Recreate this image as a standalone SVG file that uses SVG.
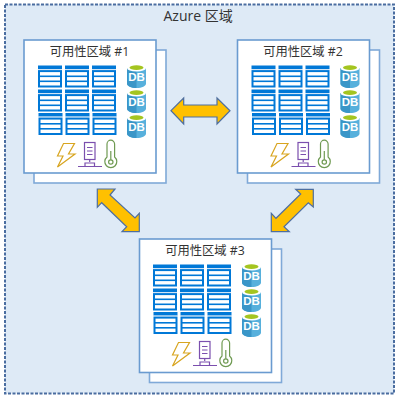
<svg xmlns="http://www.w3.org/2000/svg" xmlns:xlink="http://www.w3.org/1999/xlink" width="400" height="400" viewBox="0 0 400 400">
<style>
.region{fill:#deeaf6;stroke:#4a6da0;stroke-width:2;stroke-dasharray:3 1.5}
.card{fill:#fff;stroke:#7fa9d8;stroke-width:1.6}
.front{stroke:#6a9bd0}
text{font-family:"Open Sans","Noto Sans CJK SC",sans-serif;fill:#333}
.arrow{fill:#ffc000;stroke:#4f6f9f;stroke-width:1.2}
.w{fill:#fff}.b{fill:#0078d7}
</style>
<defs>
<g id="tbl">
<rect class="b" x="0" y="0" width="24" height="3.600"/>
<rect fill="#cfe3f6" x="0" y="3.600" width="24" height="1"/>
<rect class="b" x="0" y="4.600" width="24" height="17.400"/>
<rect class="w" x="2" y="6.600" width="20" height="3.400"/>
<rect class="w" x="2" y="11.600" width="20" height="3.400"/>
<rect class="w" x="2" y="16.600" width="20" height="3.400"/>
</g>
<g id="db">
<path d="M0 4V19.500C0 22 4 24 9.500 24S19 22 19 19.500V4Z" fill="#57b0dc"/>
<path d="M0 4V19.500C0 22 4 24 9.500 24V4Z" fill="#3a96c8"/>
<ellipse cx="9.500" cy="4" rx="9.500" ry="3.600" fill="#fff"/>
<ellipse cx="9.500" cy="3.600" rx="7" ry="2.300" fill="#a4c520"/>
<text x="9.500" y="17" font-size="11.500" font-weight="700" text-anchor="middle" style="font-family:'Liberation Sans',sans-serif;fill:#fff">DB</text>
</g>
<g id="contents">
<use xlink:href="#tbl" x="38" y="65.500"/><use xlink:href="#tbl" x="65" y="65.500"/><use xlink:href="#tbl" x="92" y="65.500"/>
<use xlink:href="#tbl" x="38" y="89.500"/><use xlink:href="#tbl" x="65" y="89.500"/><use xlink:href="#tbl" x="92" y="89.500"/>
<use xlink:href="#tbl" x="38.500" y="113"/><use xlink:href="#tbl" x="65.500" y="113"/><use xlink:href="#tbl" x="92.500" y="113"/>
<use xlink:href="#db" x="127" y="64"/><use xlink:href="#db" x="127" y="89"/><use xlink:href="#db" x="127" y="114"/>
<path d="M63.500 143.500H74.500L68.500 154H75L57.500 167L63 156H57.500Z" fill="none" stroke="#d8a520" stroke-width="1.200"/>
<g fill="none" stroke="#7b4fae" stroke-width="1.200">
<rect x="84.500" y="142.500" width="10.500" height="17"/>
<path d="M87 147.500H92.500M87 151H92.500M87 154.500H92.500"/>
<path d="M89.700 159.500V162M78 166.500H102M85 166.500V163H94.500V166.500"/>
</g>
<g fill="none" stroke="#6f9a52" stroke-width="1.200">
<path d="M107 157V144A3.800 3.800 0 0 1 114.600 144V157A6 6 0 1 1 107 157Z"/>
<circle cx="110.800" cy="162" r="2.200"/>
<path d="M110.800 159.800V151"/>
</g>
</g>
</defs>
<rect class="region" x="5" y="4.500" width="389" height="389"/>
<text x="163.500" y="21" font-size="14">Azure 区域</text>
<g id="zone1">
<rect class="card" x="34" y="50" width="132" height="133"/>
<rect class="card front" x="24" y="40" width="132" height="133"/>
<text x="89.500" y="56" font-size="12.300" text-anchor="middle">可用性区域 #1</text>
<use xlink:href="#contents"/>
</g>
<g id="zone2">
<rect class="card" x="247.500" y="50" width="132" height="133"/>
<rect class="card front" x="237.500" y="40" width="132" height="133"/>
<text x="303" y="56" font-size="12.300" text-anchor="middle">可用性区域 #2</text>
<use xlink:href="#contents" x="213.500"/>
</g>
<g id="zone3">
<rect class="card" x="149.500" y="249" width="132" height="133.500"/>
<rect class="card front" x="139.500" y="239" width="132" height="133.500"/>
<text x="205" y="254.500" font-size="12.300" text-anchor="middle">可用性区域 #3</text>
<use xlink:href="#contents" x="115" y="199"/>
</g>
<g id="connectors">
<path class="arrow" d="M171 110.700L183.700 98V105H217V98L230 110.700L217 124V117H183.700V124Z"/>
<path class="arrow" d="M97.300 189H115L110 195L135 218L139.300 213.300V231.700H122L126.700 226.700L101.700 202.700L97.300 207.300Z"/>
<path class="arrow" d="M313.300 189.300H295.700L300.700 194L276 218.300L271.300 213.300V231.700H289.300L284 226.700L308.300 202.700L313.300 207Z"/>
</g>
</svg>
